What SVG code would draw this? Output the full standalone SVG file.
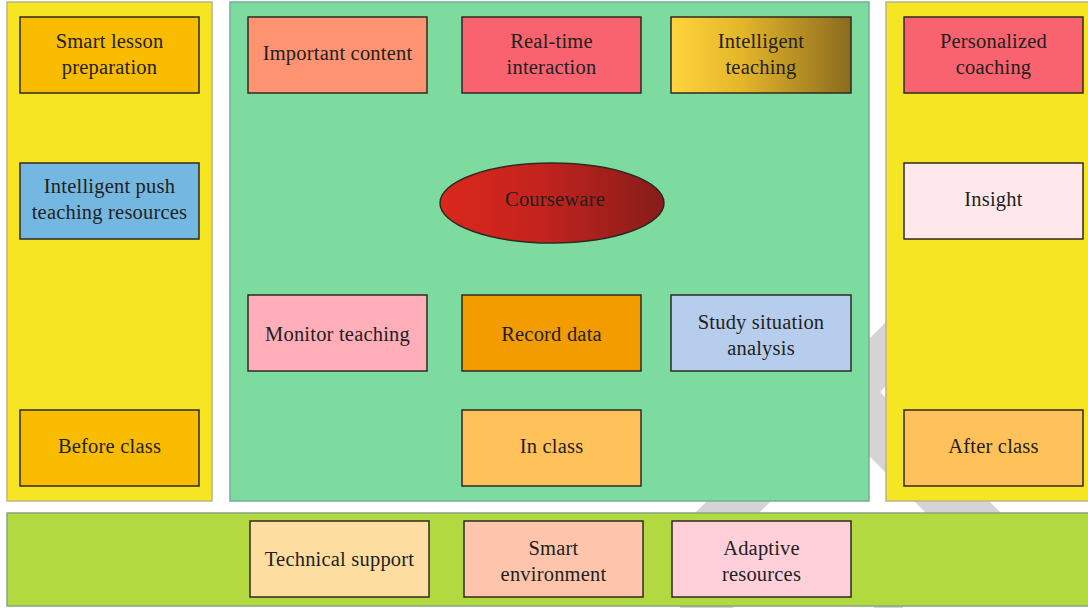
<svg xmlns="http://www.w3.org/2000/svg" width="1088" height="608" viewBox="0 0 1088 608">
<defs>
<linearGradient id="gGold" x1="0" y1="0" x2="1" y2="0">
<stop offset="0" stop-color="#FFD43C"/><stop offset="0.4" stop-color="#E3B52A"/><stop offset="1" stop-color="#8A6B1E"/>
</linearGradient>
<linearGradient id="gRed" x1="0" y1="0" x2="1" y2="0">
<stop offset="0" stop-color="#DA281C"/><stop offset="0.45" stop-color="#C3231E"/><stop offset="1" stop-color="#861D19"/>
</linearGradient>
<style>
.node{stroke:#2e2a22;stroke-width:1.5}
.panel{stroke-width:1.5}
text{font-family:"Liberation Serif","DejaVu Serif",serif;font-size:20.5px;fill:#231f20;text-anchor:middle;letter-spacing:0.2px}
</style>
</defs>
<rect x="0" y="0" width="1088" height="608" fill="#ffffff"/>
<g id="watermark" fill="#D4D4D4">
<polygon points="956,252 1020,252 668,604 604,604"/>
<polygon points="665,252 740,252 1092,604 1017,604"/>
<polygon points="680,604 735,604 733,608 680,608"/>
<polygon points="874,604 903,604 903,608 874,608"/>
</g>
<g id="panels">
<rect id="before-panel" class="panel" x="7" y="2" width="205" height="499" fill="#F6E523" stroke="#BDB486"/>
<rect id="in-panel" class="panel" x="230" y="2" width="639" height="499" fill="#7DDBA0" stroke="#74AE9C"/>
<rect id="after-panel" class="panel" x="886" y="2" width="204" height="499" fill="#F6E523" stroke="#BDB486"/>
<rect id="support-panel" class="panel" x="7" y="513" width="1083" height="93" fill="#B2DA40" stroke="#8AA57F"/>
</g>
<g id="connectors"></g>
<g id="n-smart-lesson"><rect class="node" x="20" y="17" width="179" height="76" fill="#F9BC00"/><text x="109.5" y="48">Smart lesson</text><text x="109.5" y="74">preparation</text></g>
<g id="n-push"><rect class="node" x="20" y="163" width="179" height="76" fill="#74B7E0"/><text x="109.5" y="193">Intelligent push</text><text x="109.5" y="219">teaching resources</text></g>
<g id="n-before"><rect class="node" x="20" y="410" width="179" height="76" fill="#F9BC00"/><text x="109.5" y="453">Before class</text></g>
<g id="n-important"><rect class="node" x="248" y="17" width="179" height="76" fill="#FF9472"/><text x="337.5" y="60">Important content</text></g>
<g id="n-realtime"><rect class="node" x="462" y="17" width="179" height="76" fill="#F8636F"/><text x="551.5" y="48">Real-time</text><text x="551.5" y="74">interaction</text></g>
<g id="n-intel-teaching"><rect class="node" x="671" y="17" width="180" height="76" fill="url(#gGold)"/><text x="761" y="48">Intelligent</text><text x="761" y="74">teaching</text></g>
<g id="n-courseware"><ellipse class="node" cx="552" cy="203" rx="112" ry="40" fill="url(#gRed)"/><text x="555" y="206">Courseware</text></g>
<g id="n-monitor"><rect class="node" x="248" y="295" width="179" height="76" fill="#FFAEBA"/><text x="337.5" y="341">Monitor teaching</text></g>
<g id="n-record"><rect class="node" x="462" y="295" width="179" height="76" fill="#F39C00"/><text x="551.5" y="341">Record data</text></g>
<g id="n-study"><rect class="node" x="671" y="295" width="180" height="76" fill="#B7CDED"/><text x="761" y="329">Study situation</text><text x="761" y="355">analysis</text></g>
<g id="n-in-class"><rect class="node" x="462" y="410" width="179" height="76" fill="#FFC15A"/><text x="551.5" y="453">In class</text></g>
<g id="n-personalized"><rect class="node" x="904" y="17" width="179" height="76" fill="#F8636F"/><text x="993.5" y="48">Personalized</text><text x="993.5" y="74">coaching</text></g>
<g id="n-insight"><rect class="node" x="904" y="163" width="179" height="76" fill="#FFE8EC"/><text x="993.5" y="206">Insight</text></g>
<g id="n-after"><rect class="node" x="904" y="410" width="179" height="76" fill="#FFC15A"/><text x="993.5" y="453">After class</text></g>
<g id="n-technical"><rect class="node" x="250" y="521" width="179" height="76" fill="#FDDDA0"/><text x="339.5" y="566">Technical support</text></g>
<g id="n-environment"><rect class="node" x="464" y="521" width="179" height="76" fill="#FFC5AC"/><text x="553.5" y="555">Smart</text><text x="553.5" y="581">environment</text></g>
<g id="n-adaptive"><rect class="node" x="672" y="521" width="179" height="76" fill="#FFD0DA"/><text x="761.5" y="555">Adaptive</text><text x="761.5" y="581">resources</text></g>
</svg>
